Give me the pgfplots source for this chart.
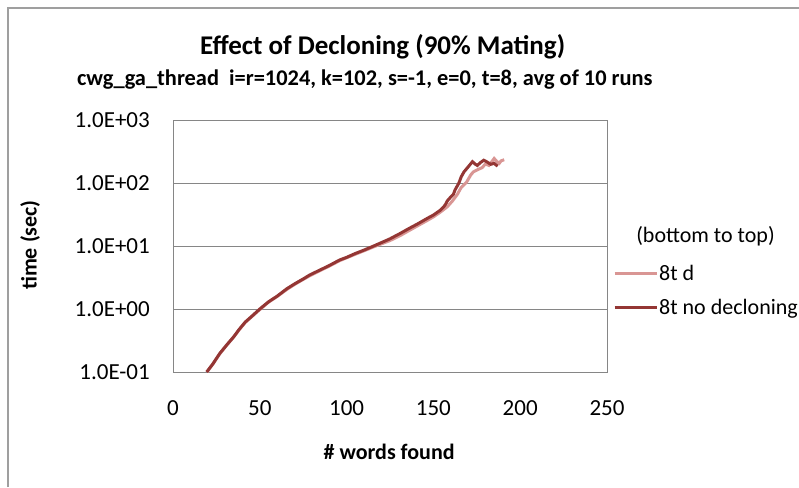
\documentclass[border=0pt]{standalone}
\usepackage{pgfplots}
\pgfplotsset{compat=1.18}
\usepackage{fontspec}
\setmainfont{Carlito}
\definecolor{lightred}{HTML}{D99694}
\definecolor{darkred}{HTML}{943634}
\definecolor{gridgray}{RGB}{134,134,134}
\begin{document}
\begin{tikzpicture}[x=1pt,y=1pt]
\useasboundingbox (0,0) rectangle (799,487);
\fill[white] (0,0) rectangle (799,487);
\draw[gray!75, line width=1.8pt] (8,0) -- (8,479) -- (799,479);
\begin{axis}[
  at={(173pt,115pt)}, anchor=south west,
  scale only axis, width=434pt, height=252pt,
  xmin=0, xmax=250, ymin=0.1, ymax=1000,
  ymode=log,
  xtick={0,50,100,150,200,250},
  ytick={0.1,1,10,100,1000},
  yticklabels={1.0E-01,1.0E+00,1.0E+01,1.0E+02,1.0E+03},
  log basis y=10,
  major tick length=0pt, minor tick length=0pt,
  ymajorgrids, major grid style={gridgray, line width=0.9pt},
  axis line style={gridgray, line width=0.9pt},
  tick label style={font=\fontsize{23}{26}\selectfont, text=black},
  /pgf/number format/assume math mode=true,
  xticklabel style={anchor=center, inner sep=0pt, yshift=-36pt},
  yticklabel style={anchor=east, inner sep=0pt, xshift=-23pt},
  xlabel={\# words found},
  ylabel={time (sec)},
  label style={font=\bfseries\fontsize{22}{25}\selectfont},
  xlabel style={at={(axis description cs:0.498,-0.317)}, anchor=center},
  ylabel style={at={(axis description cs:-0.329,0.504)}, anchor=center, rotate=0},
  legend style={at={(axis description cs:1.0138,0.323)}, anchor=west,
    draw=none, fill=none, inner sep=0pt, row sep=15pt,
    font=\fontsize{22}{25}\selectfont,
    nodes={inner sep=1pt, anchor=west}},
  legend cell align=left,
  legend image code/.code={\draw[#1, line width=3pt] (0pt,0pt) -- (42pt,0pt);},
  clip=false,
]
\addplot[lightred, line width=3pt] coordinates {
(19.6,0.10) (23,0.134) (27,0.196) (31,0.268) (35,0.36) (38,0.465) (41.6,0.61)
(45,0.74) (50,0.98) (55,1.28) (60,1.58) (65.6,2.05) (70,2.45) (75,2.95) (79,3.4)
(85,4.1) (90,4.8) (96,5.85) (100,6.5) (105,7.4) (110,8.4) (115.6,9.7)
(120,10.8) (125,12.2) (131,14.7) (136,17.6) (141,21) (146.5,25.5) (150,29)
(154,34.5) (158,42) (161,52) (163.8,66) (166,85) (169,102) (171.5,134) (173,150)
(175.3,162) (178,175) (180,200) (182,190) (185,245) (186.5,220) (187.9,205)
(189,225) (190.8,234)
};
\addlegendentry{8t d}
\addplot[darkred, line width=3pt] coordinates {
(19.4,0.10) (23,0.135) (27,0.198) (31,0.27) (35,0.363) (38,0.47) (41.6,0.62)
(45,0.75) (50,1.0) (55,1.3) (60,1.6) (65.6,2.1) (70,2.5) (75,3.0) (79,3.5)
(85,4.2) (90,4.9) (96,6.0) (100,6.6) (105,7.6) (110,8.6) (115.6,10)
(120,11.3) (125,13) (131,15.9) (136,19) (141,22.5) (146.5,27.5) (150,31)
(154,37) (156,42) (157,46) (158,52) (160,60) (161.5,66) (162.5,78) (164.7,100)
(166,125) (167.6,150) (170,180) (172.5,218) (174,200) (175.3,190) (177,210)
(179,230) (181,215) (183,198) (185,205) (187,185)
};
\addlegendentry{8t no decloning}
\node[anchor=west, font=\fontsize{22}{25}\selectfont, inner sep=0pt]
  at (axis description cs:1.067,0.54) {(bottom to top)};
\node[font=\bfseries\fontsize{27}{31}\selectfont, anchor=center]
  at (axis description cs:0.483,1.29) {Effect of Decloning (90\% Mating)};
\node[font=\bfseries\fontsize{22.4}{26}\selectfont, anchor=center]
  at (axis description cs:0.442,1.159) {cwg\_ga\_thread\ \ i=r=1024, k=102, s=-1, e=0, t=8, avg of 10 runs};
\end{axis}
\end{tikzpicture}
\end{document}
